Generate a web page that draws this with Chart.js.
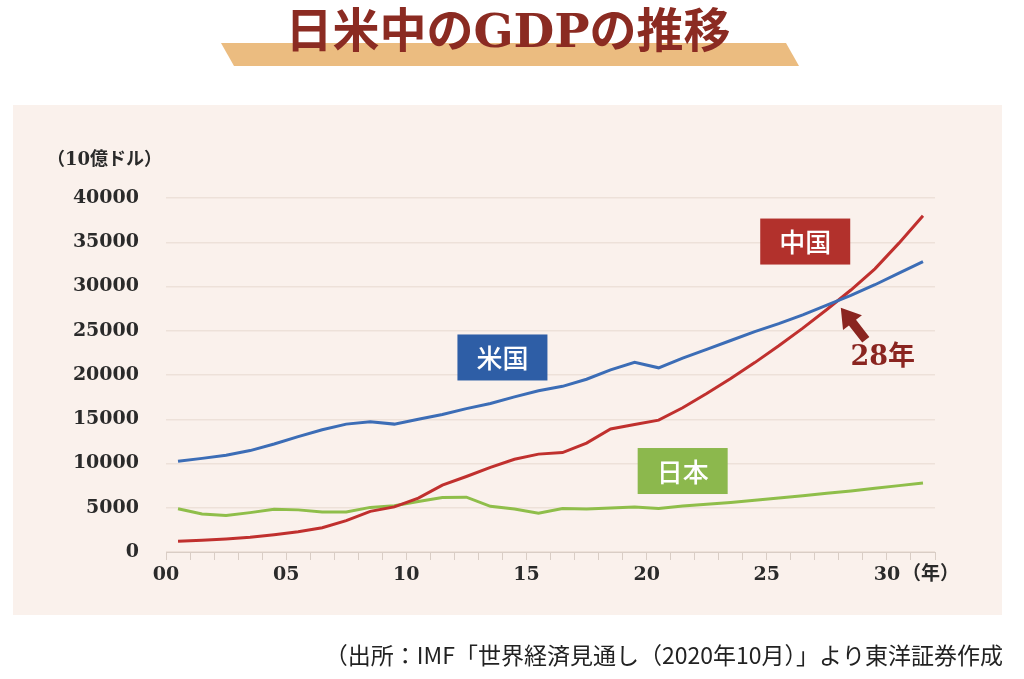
<!DOCTYPE html>
<html lang="ja">
<head>
<meta charset="utf-8">
<title>日米中のGDPの推移</title>
<script src="https://cdn.jsdelivr.net/npm/chart.js@4.4.1/dist/chart.umd.min.js"></script>
<style>
html, body { margin: 0; padding: 0; background: #fff; }
#wrap { width: 1024px; height: 679px; }
</style>
</head>
<body>
<div id="wrap"><canvas id="gdp" width="1024" height="679"></canvas></div>
<script>
// 10億ドル, IMF WEO 2020/10
var years = [2000, 2001, 2002, 2003, 2004, 2005, 2006, 2007, 2008, 2009,
             2010, 2011, 2012, 2013, 2014, 2015, 2016, 2017, 2018, 2019,
             2020, 2021, 2022, 2023, 2024, 2025, 2026, 2027, 2028, 2029,
             2030, 2031];
var usa = [10250, 10580, 10940, 11460, 12210, 13040, 13820, 14450, 14710, 14450,
           14990, 15540, 16200, 16780, 17530, 18220, 18720, 19520, 20580, 21430,
           20810, 21900, 22900, 23900, 24900, 25800, 26800, 27900, 29000, 30200,
           31500, 32800];
var china = [1210, 1340, 1470, 1660, 1960, 2290, 2750, 3550, 4590, 5100,
             6090, 7550, 8530, 9570, 10480, 11060, 11230, 12310, 13900, 14400,
             14900, 16300, 17900, 19600, 21400, 23300, 25300, 27400, 29600, 32000,
             34900, 38000];
var japan = [4890, 4300, 4120, 4450, 4820, 4760, 4530, 4520, 5040, 5230,
             5700, 6160, 6200, 5160, 4850, 4390, 4920, 4870, 4960, 5080,
             4910, 5200, 5400, 5600, 5850, 6100, 6350, 6650, 6900, 7200,
             7500, 7800];
var yTicks = [0, 5000, 10000, 15000, 20000, 25000, 30000, 35000, 40000];
var xTickLabels = ['00', '05', '10', '15', '20', '25', '30'];

var title = '日米中のGDPの推移';
var yUnit = '（10億ドル）';
var xUnit = '（年）';
var crossText = '28年';
var source = '（出所：IMF「世界経済見通し（2020年10月）」より東洋証券作成';

var tags = [
    {text: '米国', x: 14.0, y: 21980, color: '#2E5EA6'},
    {text: '中国', x: 26.6, y: 35080, color: '#B2312C'},
    {text: '日本', x: 21.5, y: 9150, color: '#8CB84D'}
];

var serif = '"DejaVu Serif", "Noto Sans CJK JP", serif';
var sans = '"Noto Sans CJK JP", "Noto Sans", sans-serif';
var darkRed = '#8A2520';

function points(values) {
    return values.map(function(v, i) {
        return {x: years[i] - years[0] + 0.5, y: v};
    });
}

var decor = {
    id: 'decor',
    beforeDraw: function(chart) {
        var ctx = chart.ctx;
        ctx.save();
        ctx.fillStyle = '#ffffff';
        ctx.fillRect(0, 0, chart.width, chart.height);
        // panel
        ctx.fillStyle = '#FAF1EC';
        ctx.fillRect(13, 105, 989, 510);
        // title banner
        ctx.fillStyle = '#EBBC80';
        ctx.beginPath();
        ctx.moveTo(221, 43);
        ctx.lineTo(786, 43);
        ctx.lineTo(799, 66);
        ctx.lineTo(234, 66);
        ctx.closePath();
        ctx.fill();
        ctx.fillStyle = '#8B2B22';
        ctx.font = 'bold 47px ' + serif;
        ctx.textAlign = 'center';
        ctx.textBaseline = 'middle';
        ctx.fillText(title, 508, 35);
        ctx.restore();
    },
    afterDraw: function(chart) {
        var ctx = chart.ctx;
        var xs = chart.scales.x, ys = chart.scales.y;
        ctx.save();
        ctx.textBaseline = 'middle';

        // units
        ctx.fillStyle = '#2a2a2a';
        ctx.font = 'bold 18px ' + serif;
        ctx.textAlign = 'left';
        ctx.fillText(yUnit, 47, 160);
        ctx.font = 'bold 19px ' + serif;
        ctx.fillText(xUnit, 902, 575);

        // series tags
        tags.forEach(function(t) {
            var cx = xs.getPixelForValue(t.x), cy = ys.getPixelForValue(t.y);
            ctx.fillStyle = t.color;
            ctx.fillRect(cx - 45, cy - 23, 90, 46);
            ctx.fillStyle = '#fff';
            ctx.font = '500 26px ' + sans;
            ctx.textAlign = 'center';
            ctx.fillText(t.text, cx, cy + 1);
        });

        // crossing point of usa / china
        for (var i = 0; i < years.length - 1; i++) {
            var d0 = china[i] - usa[i], d1 = china[i + 1] - usa[i + 1];
            if (d0 < 0 && d1 >= 0) {
                var t = d0 / (d0 - d1);
                var px = xs.getPixelForValue(i + 0.5 + t);
                var py = ys.getPixelForValue(usa[i] + t * (usa[i + 1] - usa[i]));
                var tip = {x: px + 3, y: py + 7};
                var tail = {x: tip.x + 25, y: tip.y + 32};
                var len = Math.hypot(tail.x - tip.x, tail.y - tip.y);
                var ux = (tail.x - tip.x) / len, uy = (tail.y - tip.y) / len;
                var nx = -uy, ny = ux;
                var hb = {x: tip.x + ux * 19, y: tip.y + uy * 19};
                ctx.fillStyle = darkRed;
                ctx.beginPath();
                ctx.moveTo(tip.x, tip.y);
                ctx.lineTo(hb.x + nx * 12, hb.y + ny * 12);
                ctx.lineTo(hb.x + nx * 4.5, hb.y + ny * 4.5);
                ctx.lineTo(tail.x + nx * 4.5, tail.y + ny * 4.5);
                ctx.lineTo(tail.x - nx * 4.5, tail.y - ny * 4.5);
                ctx.lineTo(hb.x - nx * 4.5, hb.y - ny * 4.5);
                ctx.lineTo(hb.x - nx * 12, hb.y - ny * 12);
                ctx.closePath();
                ctx.fill();
                ctx.font = 'bold 27px ' + serif;
                ctx.textAlign = 'center';
                ctx.fillText(crossText, tip.x + 42, tip.y + 50);
                break;
            }
        }

        // source
        ctx.fillStyle = '#222';
        ctx.font = '23px ' + sans;
        ctx.textAlign = 'right';
        ctx.fillText(source, 1003, 655);
        ctx.restore();
    }
};

new Chart(document.getElementById('gdp'), {
    type: 'line',
    data: {
        datasets: [
            {label: '米国', data: points(usa), borderColor: '#3C6DB6'},
            {label: '中国', data: points(china), borderColor: '#C0302E'},
            {label: '日本', data: points(japan), borderColor: '#8FBE4A'}
        ]
    },
    options: {
        responsive: false,
        animation: false,
        layout: {padding: {left: 0, right: 89, top: 198, bottom: 0}},
        elements: {
            line: {borderWidth: 3, tension: 0, fill: false},
            point: {radius: 0}
        },
        plugins: {
            legend: {display: false},
            tooltip: {enabled: false}
        },
        scales: {
            x: {
                type: 'linear',
                min: 0,
                max: years.length,
                afterFit: function(s) { s.height = 127; },
                afterBuildTicks: function(s) {
                    s.ticks = years.map(function(y, i) { return {value: i}; });
                    s.ticks.push({value: years.length});
                },
                ticks: {
                    autoSkip: false,
                    maxRotation: 0,
                    padding: 4,
                    color: '#2a2a2a',
                    font: {family: serif, size: 19, weight: 'bold'},
                    callback: function(v) {
                        return (v % 5 === 0 && v / 5 < xTickLabels.length) ? xTickLabels[v / 5] : '';
                    }
                },
                grid: {
                    drawOnChartArea: false,
                    drawTicks: true,
                    tickLength: 8,
                    color: '#D9CDC5'
                },
                border: {display: true, color: '#D9CDC5'}
            },
            y: {
                min: 0,
                max: 40000,
                afterFit: function(s) { s.width = 166; },
                afterBuildTicks: function(s) {
                    s.ticks = yTicks.map(function(v) { return {value: v}; });
                },
                ticks: {
                    padding: 27,
                    color: '#2a2a2a',
                    font: {family: serif, size: 19, weight: 'bold'},
                    callback: function(v) { return String(v); }
                },
                grid: {
                    drawTicks: false,
                    color: '#EDE1D9',
                    lineWidth: 1.5
                },
                border: {display: false}
            }
        }
    },
    plugins: [decor]
});
</script>
</body>
</html>
